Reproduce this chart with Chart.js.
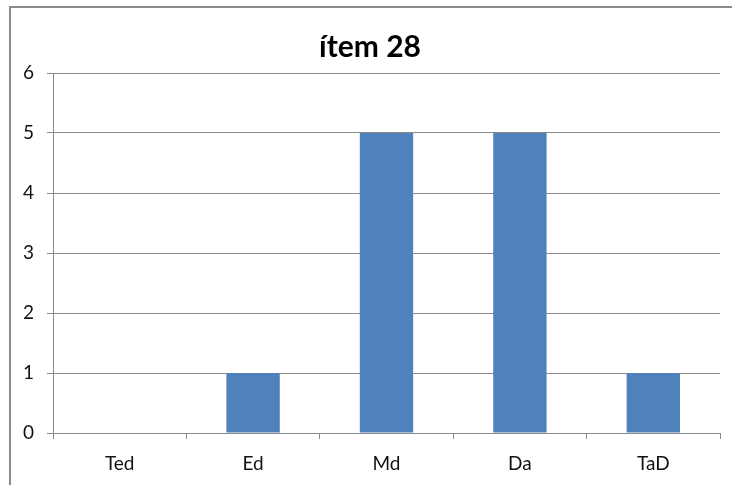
<!DOCTYPE html>
<html>
<head>
<meta charset="utf-8">
<script src="https://cdn.jsdelivr.net/npm/chart.js@4/dist/chart.umd.min.js"></script>
<style>
  body { margin: 0; background: #fff; }
  #frame { position: absolute; left: 9px; top: 6px; width: 740px; height: 500px; border: 2px solid #8a8a8a; }
  #wrap { position: absolute; left: 11px; top: 8px; width: 721px; height: 477px; }
</style>
</head>
<body>
<div id="frame"></div>
<div id="wrap"><canvas id="item-chart"></canvas></div>
<script>
const categories = ['Ted', 'Ed', 'Md', 'Da', 'TaD'];
const counts = [0, 1, 5, 5, 1];
const chartTitle = 'ítem 28';

const data = {
  labels: categories,
  datasets: [{
    label: chartTitle,
    data: counts,
    backgroundColor: '#4f81bd',
    borderWidth: 0,
    barPercentage: 0.4,
    categoryPercentage: 1
  }]
};

const config = {
  type: 'bar',
  data: data,
  options: {
    responsive: true,
    maintainAspectRatio: false,
    animation: false,
    layout: {
      // left padding nudges the title to the right, y axis width makes up for it
      padding: { top: 0, bottom: 0, left: 9, right: 12 }
    },
    plugins: {
      legend: { display: false },
      tooltip: { enabled: false },
      title: {
        display: true,
        text: chartTitle,
        color: '#000',
        font: { family: 'Lato', size: 30, weight: 'bold' },
        padding: { top: 21, bottom: 8 }
      }
    },
    scales: {
      x: {
        grid: {
          offset: true,
          drawOnChartArea: false,
          drawTicks: true,
          tickLength: 6,
          color: '#8a8a8a'
        },
        border: { color: '#8a8a8a', width: 1 },
        ticks: {
          color: '#111',
          padding: 13,
          font: { family: 'Lato', size: 19 }
        },
        afterFit: function(scale) { scale.height = 52; }
      },
      y: {
        min: 0,
        max: 6,
        ticks: {
          stepSize: 1,
          color: '#111',
          padding: 13,
          font: { family: 'Lato', size: 19 }
        },
        grid: {
          color: '#8a8a8a',
          drawTicks: true,
          tickLength: 6
        },
        border: { color: '#8a8a8a', width: 1 },
        afterFit: function(scale) { scale.width = 33; }
      }
    }
  }
};

const itemChart = new Chart(document.getElementById('item-chart'), config);
</script>
</body>
</html>
